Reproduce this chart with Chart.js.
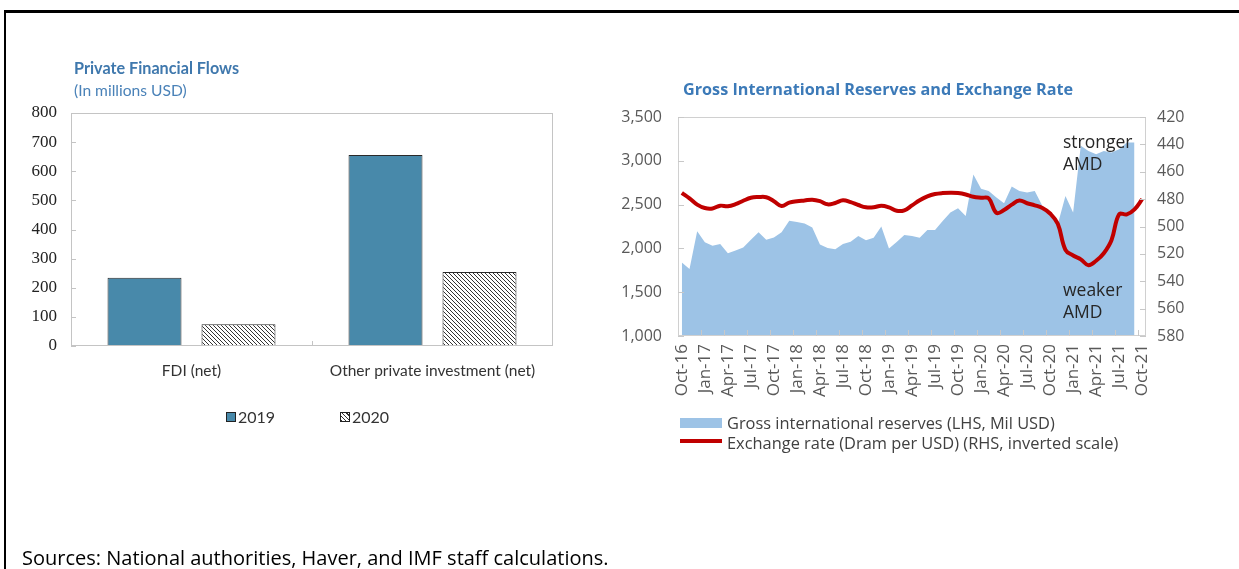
<!DOCTYPE html>
<html><head><meta charset="utf-8">
<script src="https://cdn.jsdelivr.net/npm/chart.js@4"></script>
<style>
body{margin:0;width:1239px;height:569px;background:#fff;position:relative;overflow:hidden;font-family:'Open Sans',sans-serif;}
.frame{position:absolute;left:4px;top:10px;width:1240px;height:570px;border-top:3px solid #000;border-left:2px solid #000;}
canvas{position:absolute;left:0;top:0;}
.t{position:absolute;white-space:nowrap;line-height:20px;}
</style></head>
<body>
<div class="frame"></div>
<canvas id="c1" width="1239" height="569"></canvas>
<canvas id="c2" width="1239" height="569"></canvas>

<div class="t" style="left:74px;top:58px;font-family:Lato;font-weight:700;font-size:16.2px;color:#3f78ad">Private Financial Flows</div>
<div class="t" style="left:74px;top:80px;font-family:Lato;font-size:15.6px;color:#4a82b8">(In millions USD)</div>

<div class="t" style="left:226px;top:412px;width:8px;height:8px;background:#4889aa;border:1px solid #222"></div>
<div class="t" style="left:238px;top:407px;font-family:Lato;font-size:16px;color:#333">2019</div>
<div class="t" style="left:340px;top:412px;width:8px;height:8px;border:1px solid #222;background:repeating-linear-gradient(45deg,#333 0 1px,#fff 1px 3px)"></div>
<div class="t" style="left:352px;top:407px;font-family:Lato;font-size:16px;color:#333">2020</div>

<div class="t" style="left:683px;top:79px;font-family:'Open Sans';font-weight:700;font-size:16.2px;color:#3c7ab8">Gross International Reserves and Exchange Rate</div>

<div class="t" style="left:1063px;top:131px;font-size:17.5px;color:#262626">stronger</div>
<div class="t" style="left:1063px;top:153px;font-size:17.5px;color:#262626">AMD</div>
<div class="t" style="left:1063px;top:279px;font-size:17.5px;color:#262626">weaker</div>
<div class="t" style="left:1063px;top:301px;font-size:17.5px;color:#262626">AMD</div>

<div class="t" style="left:680px;top:418px;width:42px;height:10px;background:#9dc3e6"></div>
<div class="t" style="left:727px;top:413px;font-size:16.4px;color:#404040">Gross international reserves (LHS, Mil USD)</div>
<div class="t" style="left:680px;top:439px;width:42px;height:4px;background:#c00000"></div>
<div class="t" style="left:727px;top:433px;font-size:16.4px;color:#404040">Exchange rate (Dram per USD) (RHS, inverted scale)</div>

<div class="t" style="left:22px;top:548px;font-size:20px;color:#000">Sources: National authorities, Haver, and IMF staff calculations.</div>

<script>
// ---------- Left chart data ----------
const flowCategories = ['FDI (net)', 'Other private investment (net)'];
const flowSeriesNames = ['2019', '2020'];
const flows2019 = [234, 656];
const flows2020 = [75, 254];

// ---------- Right chart data ----------
const months = ['Oct-16','Nov-16','Dec-16','Jan-17','Feb-17','Mar-17','Apr-17','May-17','Jun-17','Jul-17','Aug-17','Sep-17',
 'Oct-17','Nov-17','Dec-17','Jan-18','Feb-18','Mar-18','Apr-18','May-18','Jun-18','Jul-18','Aug-18','Sep-18',
 'Oct-18','Nov-18','Dec-18','Jan-19','Feb-19','Mar-19','Apr-19','May-19','Jun-19','Jul-19','Aug-19','Sep-19',
 'Oct-19','Nov-19','Dec-19','Jan-20','Feb-20','Mar-20','Apr-20','May-20','Jun-20','Jul-20','Aug-20','Sep-20',
 'Oct-20','Nov-20','Dec-20','Jan-21','Feb-21','Mar-21','Apr-21','May-21','Jun-21','Jul-21','Aug-21','Sep-21','Oct-21'];
const reserves = [1840,1765,2195,2070,2030,2050,1945,1975,2010,2100,2185,2100,
 2125,2185,2315,2300,2285,2240,2045,2005,1990,2050,2075,2142,
 2093,2123,2249,1998,2074,2154,2142,2123,2211,2211,2314,2409,
 2458,2371,2843,2680,2655,2580,2516,2706,2656,2637,2656,2485,
 2371,2276,2599,2409,3171,3113,3075,3113,3094,3132,3209,3209,null];
const exchangeRate = [475.5,479.5,484,486.5,486.8,484.8,485.2,483.7,481.2,479,478.5,478.6,
 481.5,485,482.6,481.6,481,480.4,481.5,483.8,482.8,480.9,482.2,484.3,
 486,486,484.8,486,488.5,488.2,484.6,480.8,478,476.3,475.6,475.4,
 475.6,476.6,478.3,479,479.5,490,488,484,481,483,484.5,486.5,
 490.5,498,517,521.2,524,528.3,525,519.5,510,491,491.2,487.5,480];
const leftAxisTicks = {min:1000, max:3500, step:500};
const rightAxisTicks = {min:420, max:580, step:20};

// ---------- helpers ----------
function hatch(){
  const c = document.createElement('canvas'); c.width = 4; c.height = 4;
  const x = c.getContext('2d');
  x.fillStyle = '#fff'; x.fillRect(0,0,4,4);
  x.strokeStyle = '#333'; x.lineWidth = 1;
  x.beginPath(); x.moveTo(-1,-1); x.lineTo(5,5); x.moveTo(3,-1); x.lineTo(5,1); x.moveTo(-1,3); x.lineTo(1,5); x.stroke();
  return x.createPattern(c,'repeat');
}

const frameTicks = {
  id:'frameTicks',
  afterDraw(chart, args, o){
    const {ctx, chartArea:a} = chart;
    ctx.save();
    ctx.strokeStyle = o.color; ctx.lineWidth = 1;
    ctx.strokeRect(Math.round(a.left)+0.5, Math.round(a.top)+0.5, Math.round(a.right-a.left)-1, Math.round(a.bottom-a.top)-1);
    ctx.strokeStyle = o.tickColor;
    (o.left||[]).forEach(id=>{
      const s = chart.scales[id];
      s.ticks.forEach((t,i)=>{ const y = Math.round(s.getPixelForTick(i))+0.5;
        ctx.beginPath(); ctx.moveTo(a.left, y); ctx.lineTo(a.left+o.len, y); ctx.stroke(); });
    });
    (o.right||[]).forEach(id=>{
      const s = chart.scales[id];
      s.ticks.forEach((t,i)=>{ const y = Math.round(s.getPixelForTick(i))+0.5;
        ctx.beginPath(); ctx.moveTo(a.right, y); ctx.lineTo(a.right-o.len, y); ctx.stroke(); });
    });
    if (o.bottom){
      const s = chart.scales.x;
      const n = s.getLabels().length;
      for (let k=o.every; k<n; k+=o.every){
        const x = Math.round((s.getPixelForValue(k-1)+s.getPixelForValue(k))/2)+0.5;
        ctx.beginPath(); ctx.moveTo(x, a.bottom); ctx.lineTo(x, a.bottom-o.len); ctx.stroke();
      }
    }
    ctx.restore();
  }
};

// ---------- Left chart ----------
new Chart(document.getElementById('c1'), {
  type:'bar',
  data:{ labels: flowCategories, datasets:[
    {label: flowSeriesNames[0], data: flows2019, backgroundColor:'#4889aa', borderColor:'#2a2a2a', borderWidth:1},
    {label: flowSeriesNames[1], data: flows2020, backgroundColor: hatch(), borderColor:'#2a2a2a', borderWidth:1}
  ]},
  options:{
    responsive:false, animation:false,
    layout:{padding:{left:0, top:113, right:686, bottom:0}},
    datasets:{bar:{categoryPercentage:0.78, barPercentage:0.787}},
    plugins:{legend:{display:false}, tooltip:{enabled:false},
      frameTicks:{color:'#c4c4c4', tickColor:'#c4c4c4', len:5, left:['y'], bottom:true, every:1}},
    scales:{
      x:{grid:{display:false, drawTicks:false}, border:{display:false},
         ticks:{color:'#333', font:{family:'Lato', size:15.5}, padding:16},
         afterFit(s){ s.height = 569-346; }},
      y:{min:0, max:800, grid:{display:false, drawTicks:false}, border:{display:false},
         ticks:{stepSize:100, color:'#222', font:{family:'Liberation Serif', size:17}, padding:14},
         afterFit(s){ s.width = 71; }}
    }
  },
  plugins:[frameTicks]
});

// ---------- Right chart ----------
new Chart(document.getElementById('c2'), {
  type:'line',
  data:{ labels: months, datasets:[
    {label:'Exchange rate (Dram per USD) (RHS, inverted scale)', data: exchangeRate, yAxisID:'y1',
     borderColor:'#c00000', borderWidth:4, pointRadius:0, tension:0.4, fill:false, order:0},
    {label:'Gross international reserves (LHS, Mil USD)', data: reserves, yAxisID:'y',
     borderWidth:0, borderColor:'rgba(0,0,0,0)', backgroundColor:'#9dc3e6', pointRadius:0, tension:0, fill:'start', order:1}
  ]},
  options:{
    responsive:false, animation:false,
    layout:{padding:{left:0, top:117, right:0, bottom:0}},
    plugins:{legend:{display:false}, tooltip:{enabled:false},
      frameTicks:{color:'#d0d0d0', tickColor:'#c8c8c8', len:6, left:['y'], right:['y1'], bottom:true, every:3}},
    scales:{
      x:{offset:true, grid:{display:false, drawTicks:false}, border:{display:false},
         ticks:{autoSkip:false, maxRotation:90, minRotation:90, color:'#595959', font:{family:'Open Sans', size:17}, padding:8,
                callback:(v,i)=> i%3===0 ? months[i] : ''},
         afterFit(s){ s.height = 569-336; }},
      y:{position:'left', min:leftAxisTicks.min, max:leftAxisTicks.max, grid:{display:false, drawTicks:false}, border:{display:false},
         ticks:{stepSize:leftAxisTicks.step, color:'#595959', font:{family:'Open Sans', size:16}, padding:16,
                callback:v=>v.toLocaleString('en-US')},
         afterFit(s){ s.width = 678; }},
      y1:{position:'right', reverse:true, min:rightAxisTicks.min, max:rightAxisTicks.max, grid:{display:false, drawTicks:false}, border:{display:false},
         ticks:{stepSize:rightAxisTicks.step, color:'#595959', font:{family:'Open Sans', size:16}, padding:11},
         afterFit(s){ s.width = 1239-1146; }}
    }
  },
  plugins:[frameTicks]
});
</script>
</body></html>
